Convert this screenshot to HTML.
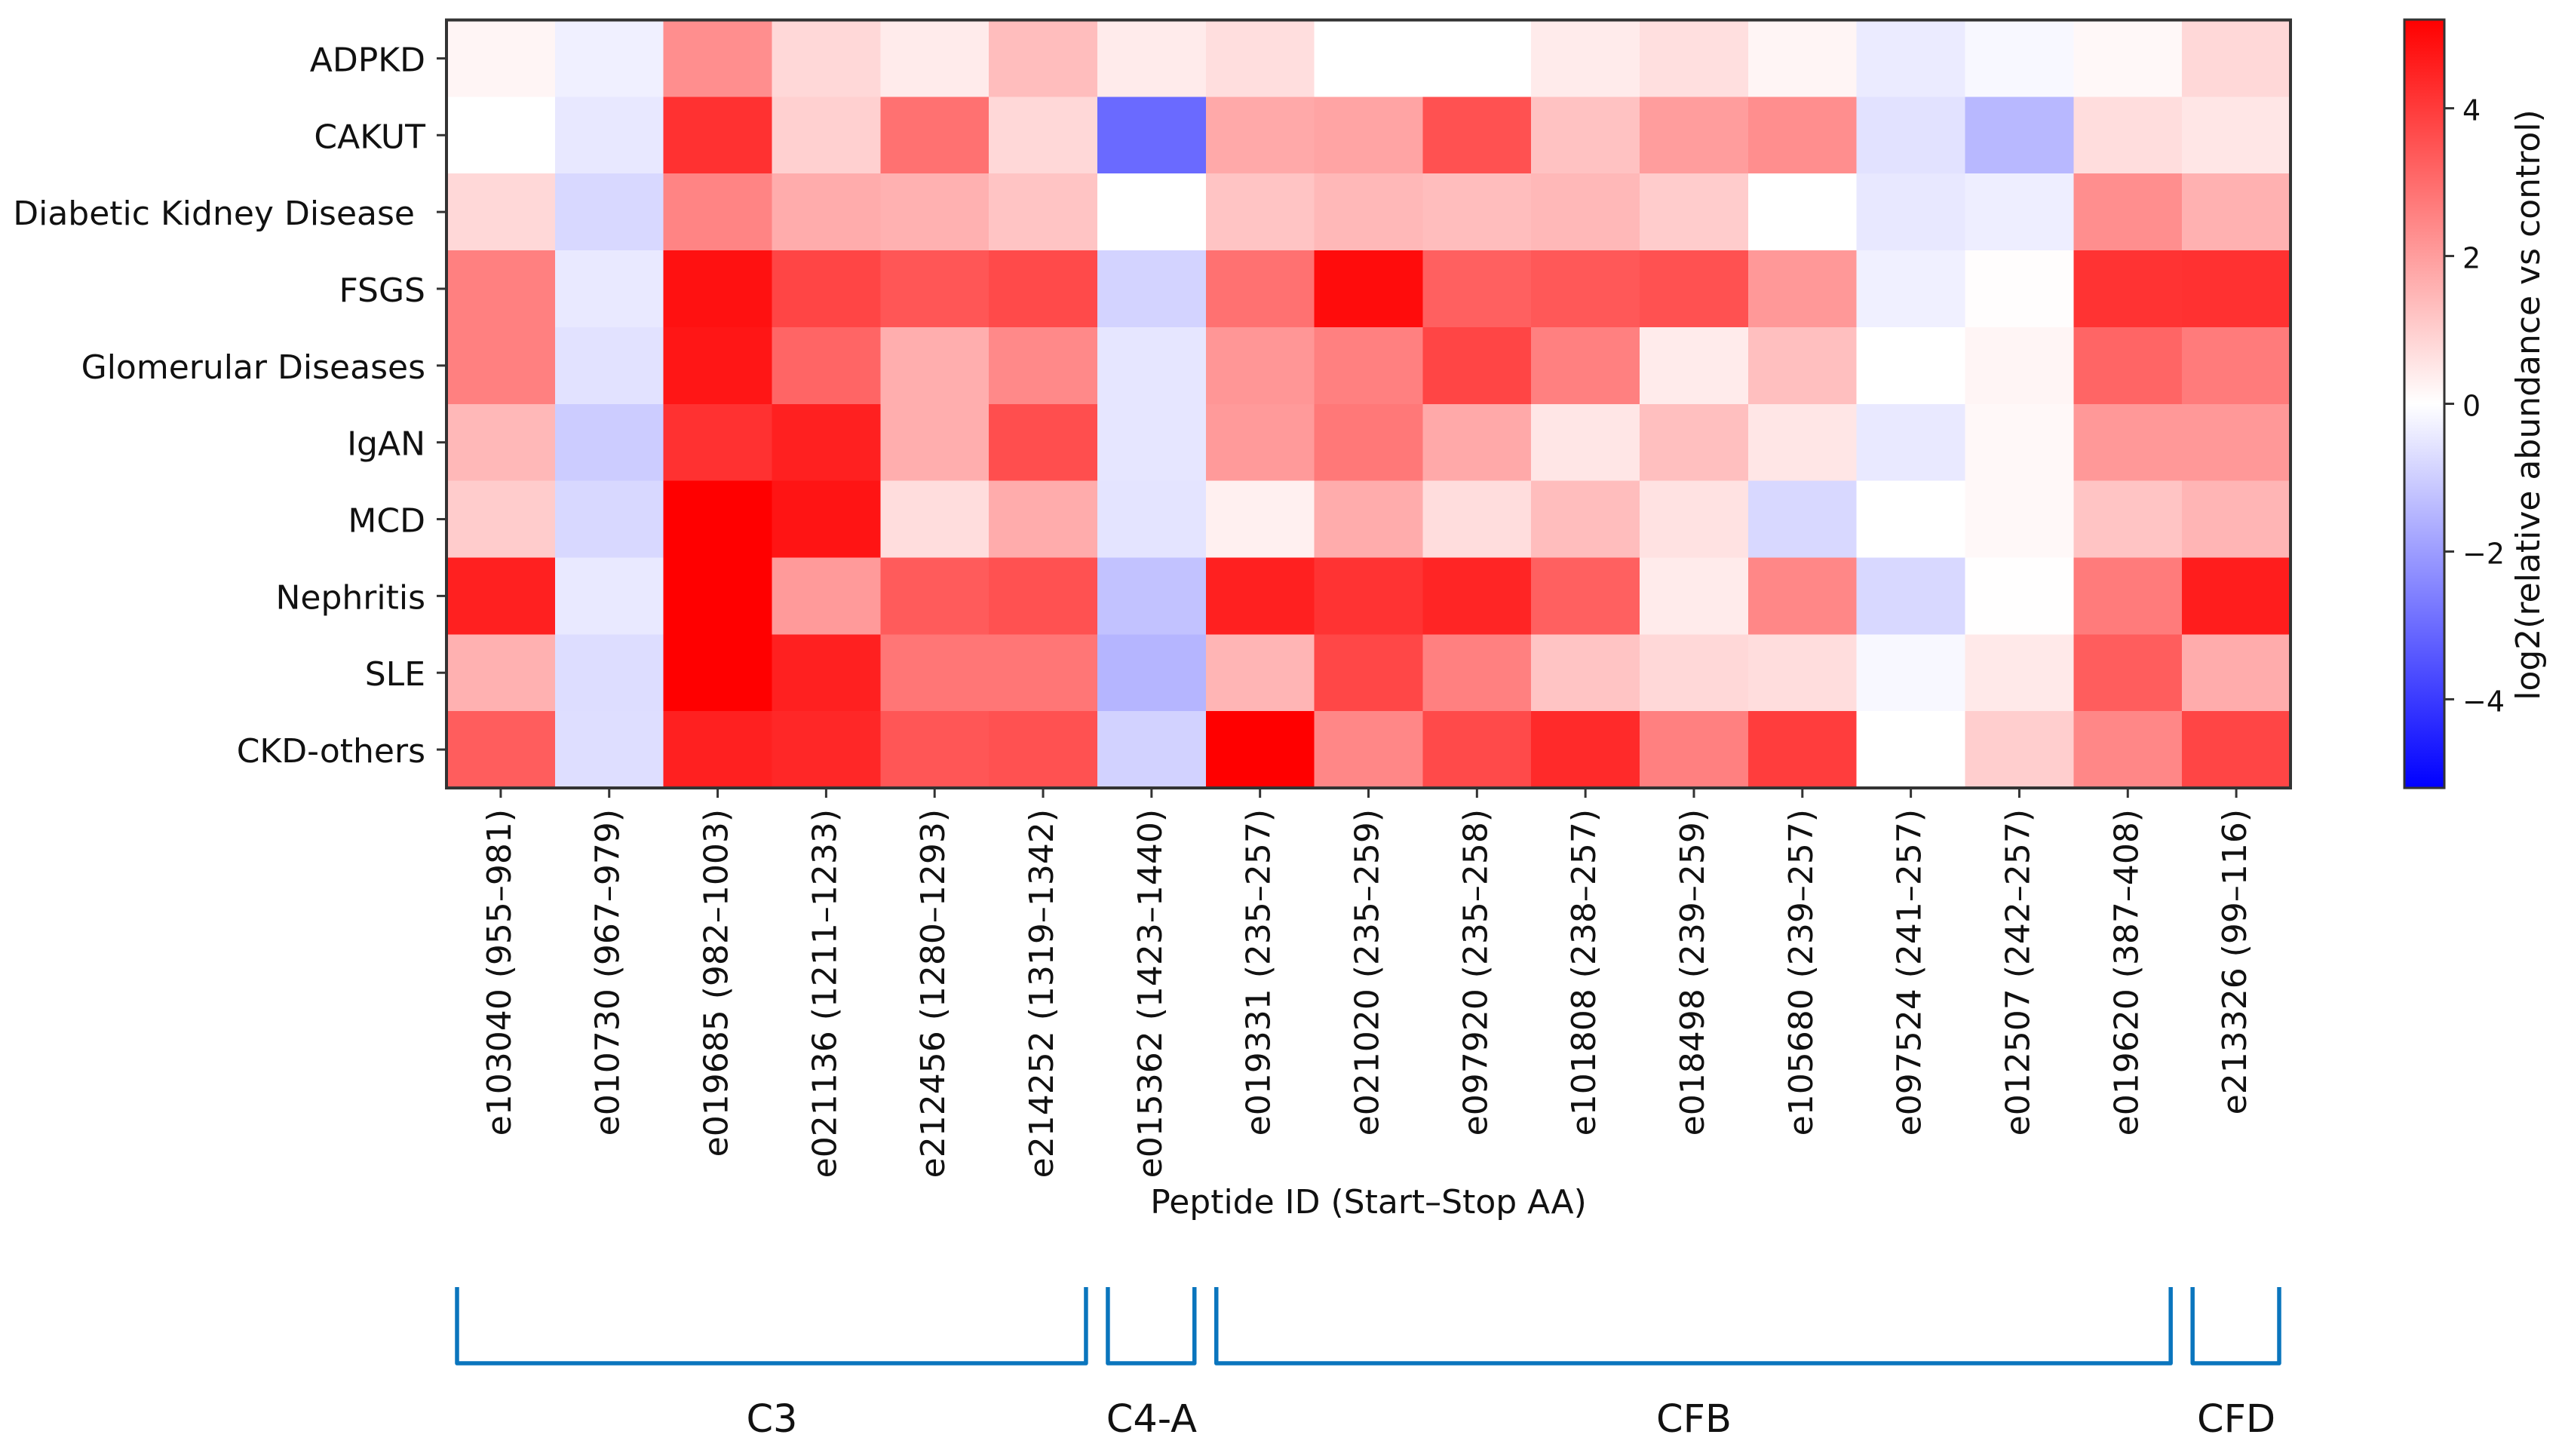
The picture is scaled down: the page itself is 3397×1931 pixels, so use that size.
<!DOCTYPE html>
<html lang="en">
<head>
<meta charset="utf-8">
<title>Peptide abundance heatmap</title>
<style>
html,body{margin:0;padding:0;background:#fff;}
#chart{display:block;width:3397px;height:1931px;background:#fff;}
text{font-family:"DejaVu Sans","Liberation Sans",sans-serif;fill:#111;white-space:pre;}
</style>
</head>
<body>
<svg id="chart" xmlns="http://www.w3.org/2000/svg" width="3397" height="1931" viewBox="0 0 3397 1931">
  <defs>
    <linearGradient id="bwr" x1="0" y1="0" x2="0" y2="1">
      <stop offset="0" stop-color="#ff0000"/>
      <stop offset="0.5" stop-color="#ffffff"/>
      <stop offset="1" stop-color="#0000ff"/>
    </linearGradient>
  </defs>
  <g id="cells"></g>
  <g id="axes"></g>
  <g id="cbar"></g>
  <g id="groups"></g>
</svg>
<script>
const diseases = ["ADPKD","CAKUT","Diabetic Kidney Disease ","FSGS","Glomerular Diseases","IgAN","MCD","Nephritis","SLE","CKD-others"];
const peptides = ["e103040 (955–981)","e010730 (967–979)","e019685 (982–1003)","e021136 (1211–1233)","e212456 (1280–1293)","e214252 (1319–1342)","e015362 (1423–1440)","e019331 (235–257)","e021020 (235–259)","e097920 (235–258)","e101808 (238–257)","e018498 (239–259)","e105680 (239–257)","e097524 (241–257)","e012507 (242–257)","e019620 (387–408)","e213326 (99–116)"];
const rowADPKD = [0.2,-0.3,2.3,0.8,0.4,1.35,0.4,0.67,0,0,0.4,0.65,0.2,-0.4,-0.14,0.15,0.8];
const rowCAKUT = [0,-0.47,4.2,0.95,2.9,0.8,-3.04,1.75,1.85,3.55,1.25,2.0,2.3,-0.6,-1.45,0.7,0.5];
const rowDKD = [0.8,-0.8,2.5,1.7,1.6,1.2,0,1.2,1.45,1.35,1.45,1.05,0,-0.47,-0.35,2.3,1.6];
const rowFSGS = [2.6,-0.45,4.85,3.8,3.45,3.7,-0.9,2.9,4.95,3.25,3.4,3.55,2.1,-0.3,0.05,4.15,4.2];
const rowGlomerular = [2.6,-0.6,4.75,3.15,1.65,2.4,-0.5,2.15,2.6,3.8,2.6,0.4,1.3,0,0.2,3.15,2.7];
const rowIgAN = [1.45,-1.05,4.2,4.55,1.65,3.6,-0.5,2.05,2.75,1.75,0.5,1.3,0.5,-0.45,0.15,2.1,2.1];
const rowMCD = [1.05,-0.8,5.2,4.8,0.7,1.7,-0.55,0.3,1.7,0.7,1.35,0.6,-0.8,0,0.15,1.2,1.5];
const rowNephritis = [4.55,-0.45,5.2,2.05,3.35,3.55,-1.25,4.55,4.15,4.45,3.25,0.4,2.45,-0.8,0.03,2.7,4.6];
const rowSLE = [1.6,-0.7,5.2,4.55,2.8,2.8,-1.5,1.5,3.75,2.6,1.2,0.8,0.7,-0.15,0.45,3.3,1.7];
const rowCKD = [3.3,-0.67,4.55,4.4,3.45,3.55,-0.92,5.2,2.45,3.7,4.35,2.6,3.95,0,1.0,2.45,3.8];
const matrix = [rowADPKD,rowCAKUT,rowDKD,rowFSGS,rowGlomerular,rowIgAN,rowMCD,rowNephritis,rowSLE,rowCKD];
const cbarTicks = [4,2,0,-2,-4];
const groupNames = ["C3","C4-A","CFB","CFD"];
const groupFirst = [0,6,7,16];
const groupLast = [5,6,15,16];

const NS = "http://www.w3.org/2000/svg";
const plot = {left:592, right:3037, top:26.5, bottom:1045};
const bar = {left:3188, right:3241, top:26, bottom:1045};
const vmax = 5.2;
const colW = (plot.right - plot.left) / peptides.length;
const rowH = (plot.bottom - plot.top) / diseases.length;
const xEdge = i => plot.left + i * colW;
const yEdge = i => plot.top + i * rowH;
const xMid = i => xEdge(i + 0.5);
const yMid = i => yEdge(i + 0.5);
const cbarY = v => (bar.top + bar.bottom) / 2 - v / vmax * (bar.bottom - bar.top) / 2;
function bwr(v){
  const t = Math.max(-1, Math.min(1, v / vmax));
  const c = Math.round(255 * (1 - Math.abs(t)));
  return t >= 0 ? `rgb(255,${c},${c})` : `rgb(${c},${c},255)`;
}
function make(tag, parent, attrs, content){
  const el = document.createElementNS(NS, tag);
  for (const k in attrs) el.setAttribute(k, attrs[k]);
  if (content !== undefined) el.textContent = content;
  parent.appendChild(el);
  return el;
}
const cellsG = document.getElementById("cells");
const axesG = document.getElementById("axes");
const cbarG = document.getElementById("cbar");
const groupsG = document.getElementById("groups");

matrix.forEach((row, r) => {
  row.forEach((v, c) => {
    const el = make("rect", cellsG, {x:xEdge(c), y:yEdge(r), width:colW + 0.5, height:rowH + 0.5, fill:bwr(v), "shape-rendering":"crispEdges"});
    
    
  });
});

const frame = make("rect", axesG, {x:plot.left, y:plot.top, width:plot.right - plot.left, height:plot.bottom - plot.top, fill:"none", stroke:"#333", "stroke-width":4});



diseases.forEach((name, r) => {
  const t = make("line", axesG, {x1:plot.left - 13, x2:plot.left, y1:yMid(r), y2:yMid(r), stroke:"#333", "stroke-width":3});
  
  
  const l = make("text", axesG, {x:564, y:yMid(r) + 17, "text-anchor":"end", "font-size":44}, name);
  
  
});

peptides.forEach((name, c) => {
  const t = make("line", axesG, {x1:xMid(c), x2:xMid(c), y1:plot.bottom, y2:plot.bottom + 13, stroke:"#333", "stroke-width":3});
  
  
  const bx = xMid(c) + 13, by = 1073;
  const l = make("text", axesG, {x:bx, y:by, "text-anchor":"end", "font-size":44, transform:`rotate(-90 ${bx} ${by})`}, name);
  
  
});

const xTitle = make("text", axesG, {x:(plot.left + plot.right) / 2, y:1609, "text-anchor":"middle", "font-size":44}, "Peptide ID (Start–Stop AA)");



const grad = make("rect", cbarG, {x:bar.left, y:bar.top, width:bar.right - bar.left, height:bar.bottom - bar.top, fill:"url(#bwr)", stroke:"#333", "stroke-width":3});



cbarTicks.forEach(v => {
  const y = cbarY(v);
  const t = make("line", cbarG, {x1:bar.right, x2:bar.right + 13, y1:y, y2:y, stroke:"#333", "stroke-width":3});
  
  
  const l = make("text", cbarG, {x:3265, y:y + 16, "font-size":38}, v < 0 ? "−" + Math.abs(v) : String(v));
  
  
});

const cbarTitle = make("text", cbarG, {x:3367, y:537, "text-anchor":"middle", "font-size":44, transform:"rotate(-90 3367 537)"}, "log2(relative abundance vs control)");



groupNames.forEach((name, g) => {
  const x0 = xEdge(groupFirst[g]) + 14;
  const x1 = xEdge(groupLast[g] + 1) - 15;
  const p = make("path", groupsG, {d:`M${x0} 1707V1808H${x1}V1707`, fill:"none", stroke:"#0a75bd", "stroke-width":5.5, "stroke-linejoin":"round"});
  
  
  const l = make("text", groupsG, {x:(xEdge(groupFirst[g]) + xEdge(groupLast[g] + 1)) / 2, y:1899, "text-anchor":"middle", "font-size":51}, name);
  
  
});
</script>
</body>
</html>
